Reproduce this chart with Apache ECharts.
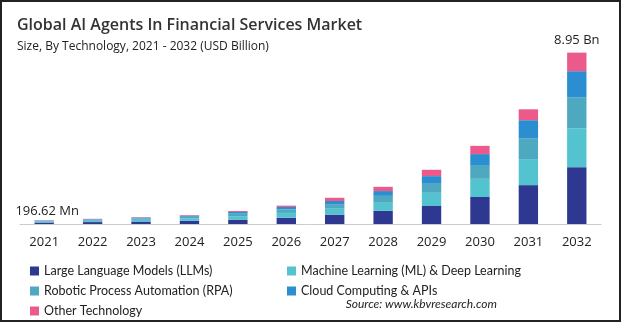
<!DOCTYPE html>
<html>
<head>
<meta charset="utf-8">
<script src="https://cdn.jsdelivr.net/npm/echarts@6/dist/echarts.min.js"></script>
<style>
html,body{margin:0;padding:0;background:#fff;}
#c{width:621px;height:322px;}
</style>
</head>
<body>
<div id="c"></div>
<script>
var years = ['2021','2022','2023','2024','2025','2026','2027','2028','2029','2030','2031','2032'];
var llm   = [0.077, 0.10, 0.13, 0.17, 0.23, 0.33, 0.49, 0.69, 0.94, 1.41, 2.03, 2.97];
var ml    = [0.05, 0.07, 0.09, 0.12, 0.18, 0.25, 0.31, 0.42, 0.69, 0.95, 1.36, 2.03];
var rpa   = [0.04, 0.05, 0.07, 0.09, 0.13, 0.18, 0.21, 0.36, 0.47, 0.68, 1.09, 1.62];
var cloud = [0.02, 0.03, 0.05, 0.06, 0.09, 0.13, 0.19, 0.25, 0.40, 0.61, 0.94, 1.36];
var other = [0.01, 0.02, 0.02, 0.03, 0.05, 0.07, 0.17, 0.22, 0.33, 0.43, 0.57, 0.97];
var annotations = ['196.62 Mn','','','','','','','','','','','8.95 Bn'];
var seriesNames = ['Large Language Models (LLMs)','Machine Learning (ML) & Deep Learning','Robotic Process Automation (RPA)','Cloud Computing & APIs','Other Technology'];
var colors = ['#2e3890','#53c4cf','#4da8c0','#2b8ed0','#ec5a8b'];

var chart = echarts.init(document.getElementById('c'), null, {renderer:'canvas'});
var font = '"Open Sans", sans-serif';
var lfont = 'Lato, "Open Sans", sans-serif';
function mk(name, data, color, idx){
  var s = {
    name: name, type: 'bar', stack: 'total', data: data,
    barWidth: '40%', itemStyle: {color: color}, silent: true
  };
  if (idx === 4) {
    s.data = data.map(function(v,i){
      if (!annotations[i]) return v;
      return {value: v, label: {show: true, position: 'top',
        distance: i === 0 ? 2 : 6, offset: i === 0 ? [3,0] : [0,0],
        formatter: function(){return annotations[i];},
        fontFamily: font, fontSize: 13, color: '#222'}};
    });
  }
  return s;
}
var legendText = {fontFamily: lfont, fontSize: 12.5, color: '#222', lineHeight: 14};
var option = {
  animation: false,
  title: [
    {text: 'Global AI Agents In Financial Services Market', left: 12, top: 12,
     textStyle: {fontFamily: font, fontWeight: 600, fontSize: 16, color: '#333'}},
    {text: 'Size, By Technology, 2021 - 2032 (USD Billion)', left: 12, top: 36,
     textStyle: {fontFamily: font, fontWeight: 'normal', fontSize: 12, color: '#222'}}
  ],
  grid: {left: 20, right: 20, top: 44, bottom: 98},
  xAxis: {
    type: 'category', data: years,
    axisLine: {lineStyle: {color: '#ccc'}},
    axisTick: {show: false},
    axisLabel: {fontFamily: font, fontSize: 13, color: '#222', margin: 12}
  },
  yAxis: {type: 'value', min: 0, max: 9.4, show: false, splitLine: {show: false}},
  legend: [
    {left: 30, top: 264, padding: 0, orient: 'vertical', itemWidth: 9, itemHeight: 9, itemGap: 6,
     data: [seriesNames[0], seriesNames[2], seriesNames[4]], icon: 'rect', textStyle: legendText},
    {left: 287, top: 264, padding: 0, orient: 'vertical', itemWidth: 9, itemHeight: 9, itemGap: 6,
     data: [seriesNames[1], seriesNames[3]], icon: 'rect', textStyle: legendText}
  ],
  graphic: [
    {type: 'rect', shape: {x: 1, y: 1, width: 619, height: 320},
     style: {fill: 'none', stroke: '#222', lineWidth: 2}, silent: true},
    {type: 'text', right: 124, top: 298,
     style: {text: 'Source: www.kbvresearch.com', font: 'italic 12px ' + lfont, fill: '#222'}}
  ],
  series: [
    mk(seriesNames[0], llm, colors[0], 0),
    mk(seriesNames[1], ml, colors[1], 1),
    mk(seriesNames[2], rpa, colors[2], 2),
    mk(seriesNames[3], cloud, colors[3], 3),
    mk(seriesNames[4], other, colors[4], 4)
  ]
};
chart.setOption(option);
</script>
</body>
</html>
